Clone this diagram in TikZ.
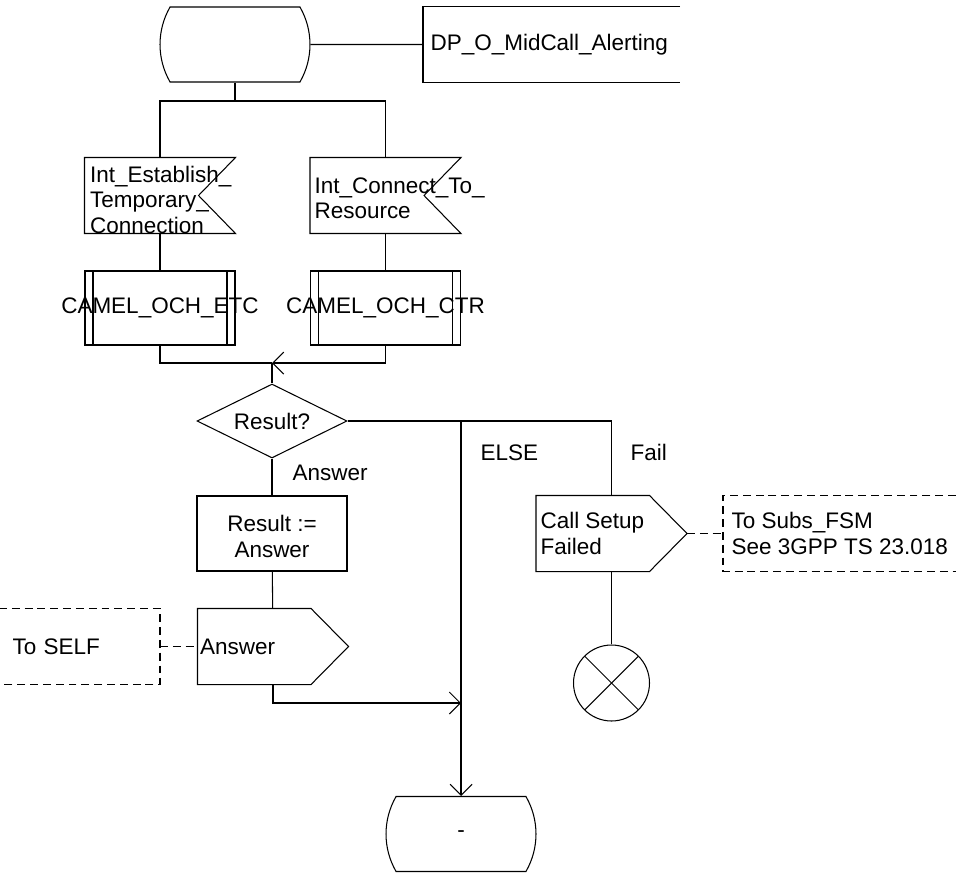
\documentclass[tikz,border=0pt]{standalone}
\usepackage{fontspec}
\setmainfont{Liberation Sans}
\usetikzlibrary{shapes.geometric, shapes.misc, arrows.meta, positioning}

\begin{document}
\begin{tikzpicture}[x=0.02cm, y=-0.02cm,
    font=\fontsize{12.8pt}{14.6pt}\selectfont,
    line width=0.6pt,
    state/.style={rounded rectangle, rounded rectangle arc length=60, draw, minimum width=3cm, minimum height=1.5cm, inner sep=0pt},
    inbox/.style={rectangle, minimum width=3cm, minimum height=1.5cm, inner sep=0pt,
        append after command={\pgfextra{\draw (\tikzlastnode.north west) -- (\tikzlastnode.north east)
            -- ([xshift=-0.74cm]\tikzlastnode.east) -- (\tikzlastnode.south east) -- (\tikzlastnode.south west) -- cycle;}}},
    outbox/.style={rectangle, minimum width=3cm, minimum height=1.5cm, inner sep=0pt,
        append after command={\pgfextra{\draw (\tikzlastnode.north west) -- ([xshift=-0.75cm]\tikzlastnode.north east)
            -- (\tikzlastnode.east) -- ([xshift=-0.75cm]\tikzlastnode.south east) -- (\tikzlastnode.south west) -- cycle;}}},
    procbox/.style={rectangle, draw, minimum width=3cm, minimum height=1.48cm, inner sep=0pt,
        path picture={
            \draw ([xshift=0.16cm]path picture bounding box.north west) -- ([xshift=0.16cm]path picture bounding box.south west);
            \draw ([xshift=-0.16cm]path picture bounding box.north east) -- ([xshift=-0.16cm]path picture bounding box.south east);}},
    taskbox/.style={rectangle, draw, minimum width=3cm, minimum height=1.5cm, inner sep=0pt},
    decision/.style={diamond, draw, minimum width=3cm, minimum height=1.48cm, inner sep=0pt, aspect=2},
    stopsym/.style={circle, draw, minimum size=1.52cm, inner sep=0pt,
        path picture={
            \draw (path picture bounding box.north west) -- (path picture bounding box.south east);
            \draw (path picture bounding box.north east) -- (path picture bounding box.south west);}},
    note/.style={minimum height=1.5cm, align=left, inner sep=0pt},
    lbl/.style={anchor=west, inner sep=0pt},
    flow/.style={-{Straight Barb[length=0.22cm, width=0.44cm]}},
    dashline/.style={dash pattern=on 4.5pt off 2.8pt}]

    \useasboundingbox (0,0) rectangle (956,872);

    % start state and its text extension
    \node[state] (start) at (235,44.5) {};
    \node[note, anchor=west, text width=4.84cm, inner xsep=0.14cm] (dp) at (423,44.5) {DP\_O\_MidCall\_Alerting};
    \draw (dp.north east) -- (dp.north west) -- (dp.south west) -- (dp.south east);
    \draw (start) -- (dp);

    % inputs
    \node[inbox] (estab) at (160,195.5) {\raisebox{-0.19cm}[0pt][0pt]{\parbox{2.8cm}{Int\_Establish\_\\Temporary\_\\Connection}}};
    \node[inbox] (connect) at (385.5,195.5) {\raisebox{-0.16cm}[0pt][0pt]{\parbox{2.84cm}{Int\_Connect\_To\_\\Resource}}};
    \coordinate (fork) at (235,101);
    \draw (start.south) -- (fork);
    \draw (fork) -| (estab.north);
    \draw (fork) -| (connect.north);

    % procedure calls
    \node[procbox] (etc) at (160,308) {\makebox[0pt]{CAMEL\_OCH\_ETC}};
    \node[procbox] (ctr) at (385.5,308) {\makebox[0pt]{CAMEL\_OCH\_CTR}};
    \draw (estab) -- (etc);
    \draw (connect) -- (ctr);

    % merge and decision
    \coordinate (merge) at (272,363);
    \draw (etc.south) |- (merge);
    \draw[flow] (ctr.south) |- (merge);
    \node[decision] (result) at (272,421) {Result?};
    \draw (merge) -- (result.north);

    % Answer branch
    \node[taskbox] (setans) at (272,533.5) {\raisebox{-0.17cm}[0pt][0pt]{\parbox{2.8cm}{\centering Result :=\\Answer}}};
    \draw (result.south) -- node[lbl, pos=0.4, xshift=0.4cm] {Answer} (setans.north);
    \node[outbox] (ansout) at (273,646.5) {\makebox[2.92cm][l]{Answer}};
    \draw (setans) -- (ansout);
    \node[note, anchor=east, text width=2.68cm, inner xsep=0.26cm] (toself) at (160,646.5) {To SELF};
    \draw[dashline] (toself.north west) -- (toself.north east) -- (toself.south east) -- (toself.south west);
    \draw[dashline] (toself.east) -- (ansout.west);

    % Fail branch
    \node[outbox] (failout) at (611.5,533.5) {\parbox{2.84cm}{Call Setup\\Failed}};
    \draw (result.east) -| node[lbl, pos=0.71, xshift=0.37cm] {Fail} (failout.north);
    \node[note, anchor=west, inner xsep=0.16cm] (subsnote) at (723,533.5) {To Subs\_FSM\\See 3GPP TS 23.018};
    \draw[dashline] ([xshift=4.66cm]subsnote.north west) -- (subsnote.north west) -- (subsnote.south west) -- ([xshift=4.66cm]subsnote.south west);
    \draw[dashline] (failout.east) -- (subsnote.west);
    \node[stopsym] (stopx) at (611.5,683) {};
    \draw (failout.south) -- (stopx.north);

    % ELSE branch and next state
    \node[state] (finish) at (461,834) {-};
    \coordinate (elsefork) at (461,421);
    \coordinate (ansjoin) at (461,703);
    \draw[flow] (elsefork) -- node[lbl, pos=0.085, xshift=0.38cm] {ELSE} (finish.north);
    \draw[flow] (ansout.south) |- (ansjoin);
\end{tikzpicture}
\end{document}
